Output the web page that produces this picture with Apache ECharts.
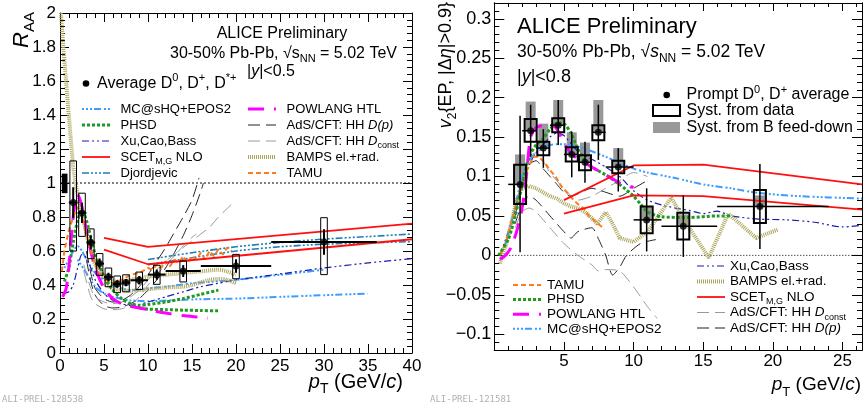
<!DOCTYPE html>
<html>
<head>
<meta charset="utf-8">
<script src="https://cdn.jsdelivr.net/npm/echarts@6/dist/echarts.min.js"></script>
<style>
html, body { margin: 0; padding: 0; background: #fff; }
#chart { width: 865px; height: 407px; }
</style>
</head>
<body>
<div id="chart"></div>
<script>
(function () {
    'use strict';
    var FONT = '"Liberation Sans", Arial, Helvetica, sans-serif';

    // ---------------- left panel : D-meson R_AA ----------------
    var raaPt     = [1.5, 2.5, 3.5, 4.5, 5.5, 6.5, 7.5, 9, 11, 14, 20, 30];
    var raaPtLo   = [1, 2, 3, 4, 5, 6, 7, 8, 10, 12, 16, 24];
    var raaPtHi   = [2, 3, 4, 5, 6, 7, 8, 10, 12, 16, 24, 36];
    var raaVal    = [0.885, 0.824, 0.65, 0.526, 0.447, 0.406, 0.414, 0.428, 0.461, 0.482, 0.512, 0.653];
    var raaStat   = [0.09, 0.06, 0.04, 0.03, 0.025, 0.022, 0.022, 0.025, 0.03, 0.035, 0.04, 0.075];
    var raaSystLo = [0.60, 0.686, 0.555, 0.457, 0.39, 0.355, 0.36, 0.373, 0.404, 0.418, 0.437, 0.461];
    var raaSystHi = [1.13, 0.94, 0.73, 0.585, 0.50, 0.453, 0.46, 0.476, 0.516, 0.541, 0.58, 0.796];
    var raaNormBox = [0.2, 0.85, 0.94, 1.055];   // xlo, xhi, ylo, yhi
    var raaUnity   = [[0, 1], [40, 1]];

    var lMcshqA  = [[0.5,0.5],[1,0.55],[1.5,0.6],[2,0.63],[2.5,0.6],[3,0.55],[4,0.47],[5,0.43],[6,0.4],[7,0.38],[8,0.37],[10,0.38],[12,0.39],[15,0.41],[20,0.43],[25,0.46],[30,0.49]];
    var lMcshqB  = [[2,0.55],[3,0.47],[4,0.39],[5,0.35],[6,0.33],[8,0.31],[10,0.305],[15,0.315],[20,0.32],[25,0.33],[30,0.34],[35,0.35]];
    var lPhsdA   = [[0.5,0.42],[1,0.5],[1.5,0.65],[2,0.78],[2.5,0.84],[3,0.78],[3.5,0.68],[4,0.58],[5,0.45],[6,0.37],[7,0.32],[8,0.29],[9,0.28],[10,0.285],[12,0.3],[14,0.32],[16,0.345],[18,0.37]];
    var lPhsdB   = [[8,0.28],[9,0.265],[10,0.258],[12,0.255],[14,0.252],[16,0.25],[18,0.248]];
    var lXcb     = [[0.3,0.35],[1,0.36],[1.5,0.4],[2,0.5],[2.5,0.58],[3,0.56],[3.5,0.5],[4,0.43],[5,0.35],[6,0.31],[7,0.29],[8,0.28],[9,0.285],[10,0.3],[12,0.33],[14,0.36],[16,0.39],[18,0.41],[20,0.43],[25,0.465],[30,0.5],[35,0.53],[40,0.555]];
    var lScetHi  = [[5,0.677],[10,0.624],[40,0.761]];
    var lScetLo  = [[5,0.608],[10,0.522],[40,0.669]];
    var lDjoA    = [[10,0.55],[15,0.59],[20,0.625],[25,0.65],[30,0.67],[35,0.685],[40,0.70]];
    var lDjoB    = [[10,0.52],[15,0.56],[20,0.6],[25,0.625],[30,0.64],[35,0.648],[40,0.655]];
    var lPowlang = [[0.3,0.33],[0.7,0.38],[1,0.5],[1.5,0.8],[2,0.93],[2.5,0.86],[3,0.72],[3.5,0.6],[4,0.5],[5,0.38],[6,0.32],[7,0.29],[8,0.275],[9,0.265],[10,0.255],[12,0.235],[14,0.22],[16,0.21],[16.8,0.205]];
    var lDpA     = [[3,0.6],[3.5,0.47],[4,0.38],[5,0.32],[6,0.3],[7,0.31],[8,0.34],[9,0.39],[10,0.46],[11,0.54],[12,0.62],[13,0.71],[14,0.8],[15,0.9],[15.8,1.03]];
    var lDpB     = [[3,0.55],[3.5,0.42],[4,0.34],[5,0.28],[6,0.265],[7,0.27],[8,0.29],[9,0.32],[10,0.37],[11,0.43],[12,0.5],[13,0.59],[14,0.69],[15,0.81],[16,0.95],[16.3,1.0]];
    var lDcA     = [[2.7,0.52],[3.5,0.38],[4,0.33],[5,0.3],[6,0.29],[7,0.3],[8,0.33],[9,0.37],[10,0.43],[11,0.49],[12,0.54],[13,0.58],[14,0.62],[15,0.66],[16,0.7],[17,0.74],[18,0.8],[19,0.85],[19.8,0.89]];
    var lDcB     = [[2.7,0.48],[3.5,0.33],[4,0.29],[5,0.26],[6,0.255],[7,0.26],[8,0.28],[9,0.33],[10,0.4],[11,0.46],[12,0.52],[13,0.57],[14,0.63],[15,0.68],[15.5,0.7]];
    var lBampsA  = [[0.1,2.0],[0.5,1.72],[1,1.4],[1.5,1.1],[2,0.93],[2.5,0.82],[3,0.7],[3.5,0.6],[4,0.52],[5,0.45],[6,0.42],[7,0.42],[8,0.43],[9,0.44],[10,0.45],[12,0.46],[14,0.47],[16,0.48],[18,0.49],[19,0.48],[20,0.46]];
    var lBampsB  = [[5,0.41],[6,0.38],[7,0.37],[8,0.365],[9,0.37],[10,0.375],[12,0.385],[14,0.39],[15,0.4],[16,0.415],[17,0.43],[18,0.435],[19,0.43],[20,0.41]];
    var lTamu    = [[0.2,0.48],[0.5,0.6],[1,0.72],[1.5,0.8],[2,0.86],[2.5,0.8],[3,0.7],[3.5,0.6],[4,0.52],[4.5,0.47],[5,0.44],[5.5,0.42],[6,0.41],[7,0.43],[8,0.46],[9,0.47],[10,0.5],[10.5,0.49],[11,0.52],[11.5,0.5],[12,0.54],[12.5,0.51],[13,0.55],[13.5,0.53],[14,0.57],[14.5,0.53],[15,0.57],[15.5,0.55],[16,0.59],[16.5,0.55],[17,0.6],[17.5,0.57],[18,0.61],[18.5,0.58],[19,0.62],[19.5,0.6]];

    // ---------------- right panel : D-meson v2 ----------------
    var v2Pt     = [1.85, 2.61, 3.52, 4.59, 5.56, 6.51, 7.47, 8.9, 10.94, 13.57, 19.07];
    var v2PtLo   = [1, 2, 3, 4, 5, 6, 7, 8, 10, 12, 16];
    var v2PtHi   = [2, 3, 4, 5, 6, 7, 8, 10, 12, 16, 24];
    var v2Val    = [0.090, 0.158, 0.136, 0.165, 0.128, 0.118, 0.156, 0.112, 0.045, 0.037, 0.062];
    var v2StatLo = [0.004, 0.125, 0.111, 0.140, 0.099, 0.092, 0.121, 0.081, 0.005, -0.002, 0.008];
    var v2StatHi = [0.177, 0.191, 0.160, 0.197, 0.157, 0.144, 0.191, 0.136, 0.085, 0.076, 0.116];
    var v2SystLo = [0.065, 0.144, 0.127, 0.156, 0.119, 0.108, 0.146, 0.104, 0.028, 0.020, 0.041];
    var v2SystHi = [0.115, 0.173, 0.144, 0.174, 0.137, 0.127, 0.165, 0.120, 0.062, 0.054, 0.083];
    var v2FdHi   = [0.128, 0.195, 0.167, 0.197, 0.156, 0.143, 0.197, 0.136, 0.062, 0.052, 0.076];
    var v2Zero   = [[0, 0], [26.4, 0]];

    var rTamu    = [[0.4,0.0],[0.8,0.015],[1.2,0.04],[1.6,0.065],[2,0.09],[2.4,0.11],[2.8,0.125],[3.2,0.125],[3.6,0.118],[4,0.108],[4.4,0.1],[4.8,0.088],[5.2,0.08],[5.6,0.072],[6,0.065],[6.4,0.06],[6.8,0.05],[7.2,0.044],[7.6,0.038],[7.9,0.033]];
    var rPhsd    = [[0.3,0],[1,0.02],[1.5,0.05],[2,0.09],[2.5,0.125],[3,0.14],[3.5,0.148],[4,0.16],[4.5,0.168],[5,0.167],[5.5,0.155],[6,0.135],[6.5,0.12],[7,0.112],[8,0.102],[9,0.09],[10,0.075],[10.5,0.065],[11,0.055],[12,0.049],[14,0.048],[16,0.05],[17,0.05]];
    var rPowlang = [[0.4,-0.005],[0.8,0.0],[1.2,0.01],[1.6,0.03],[2,0.06],[2.3,0.1],[2.6,0.15],[3,0.162],[3.5,0.165],[4,0.167],[4.5,0.16],[5,0.142],[5.5,0.13],[6,0.122],[6.5,0.117],[7,0.112],[7.5,0.107],[8,0.102],[8.5,0.097],[9,0.092],[9.5,0.089],[10,0.086]];
    var rMcshq   = [[0.4,0.0],[0.8,0.015],[1.2,0.04],[1.6,0.07],[2,0.1],[2.5,0.12],[3,0.13],[3.5,0.136],[4,0.14],[5,0.141],[6,0.138],[7,0.132],[8,0.125],[9,0.117],[10,0.11],[11,0.105],[13,0.098],[15,0.09],[17,0.085],[19,0.079],[22,0.075],[26.4,0.072]];
    var rXcb     = [[0.4,0.0],[1,0.03],[1.5,0.06],[2,0.09],[2.5,0.115],[3,0.13],[3.5,0.14],[4,0.15],[4.5,0.155],[5,0.152],[6,0.132],[7,0.122],[8,0.112],[9,0.1],[10,0.082],[11,0.07],[12,0.064],[13,0.06],[14,0.057],[15,0.053],[16,0.056],[17,0.05],[19,0.046],[21,0.045],[23,0.042],[25,0.036],[26.4,0.038]];
    var rBamps   = [[0.4,-0.01],[0.8,0.01],[1.2,0.04],[1.6,0.07],[2,0.085],[2.5,0.088],[3,0.085],[3.5,0.08],[4,0.075],[4.5,0.072],[5,0.066],[5.5,0.062],[6,0.06],[6.5,0.055],[7,0.047],[7.4,0.04],[8,0.055],[8.5,0.04],[9,0.022],[10,0.017],[11,0.03],[12.7,0.073],[14,0.035],[15.4,-0.003],[16.8,0.053],[18.8,0.022],[20.4,0.033]];
    var rScetHi  = [[5,0.07],[10,0.114],[15,0.115],[26.4,0.09]];
    var rScetLo  = [[5,0.053],[10,0.076],[15,0.075],[26.4,0.058]];
    var rDpA     = [[1.5,0.05],[2,0.09],[2.5,0.115],[3,0.12],[3.5,0.11],[4,0.1],[4.5,0.09],[5,0.08],[5.5,0.075],[6,0.078],[7,0.085],[8,0.08],[9,0.075],[10,0.085],[11,0.095]];
    var rDpB     = [[1.5,0.04],[2,0.065],[2.5,0.075],[3,0.07],[4,0.05],[5,0.03],[5.5,0.022],[6,0.03],[7,0.035],[7.5,0.02],[8,0.0],[8.5,-0.025],[9,-0.015],[9.5,0.0],[10.5,0.015],[11.6,0.02]];
    var rDcA     = [[1.5,0.06],[2,0.1],[2.5,0.125],[3,0.13],[3.5,0.12],[4,0.105],[5,0.085],[6,0.07],[7,0.075],[8,0.085],[9,0.095],[10,0.105],[11,0.1]];
    var rDcB     = [[1.5,0.035],[2,0.055],[2.5,0.06],[3,0.055],[4,0.035],[5,0.015],[6,0.0],[7,-0.012],[7.5,-0.02],[8,-0.018],[9,-0.02],[10,-0.04],[11,-0.065],[11.7,-0.08]];

    // tick values of the right panel
    var v2XMajor = [5, 10, 15, 20, 25];
    var v2YMajor = [-0.1, -0.05, 0, 0.05, 0.1, 0.15, 0.2, 0.25, 0.3];
    var v2XMinor = [], v2YMinor = [];
    for (var t = 1; t <= 26; t++) v2XMinor.push(t);
    for (var u = -12; u <= 32; u++) v2YMinor.push(u / 100);

    var st = {
        mcshq:   {color: '#3d9cff', width: 2,   dash: [2, 2, 2, 2, 2, 2, 7, 3]},
        phsd:    {color: '#1f9b1f', width: 3,   dash: [3, 2]},
        xcb:     {color: '#1c1caa', width: 1.2, dash: [7, 3, 2, 3, 2, 3]},
        scet:    {color: '#ff1010', width: 1.8, dash: 'solid'},
        djo:     {color: '#1f7fb0', width: 1.6, dash: [7, 2, 2, 2, 2, 2, 2, 2]},
        powlang: {color: '#ff00ff', width: 3,   dash: [16, 10]},
        adsDp:   {color: '#222222', width: 1,   dash: [12, 6]},
        adsDc:   {color: '#9a9a9a', width: 1,   dash: [12, 6]},
        bamps:   {color: '#aaa55a', width: 4,   dash: [1, 1]},
        tamu:    {color: '#ff7a1a', width: 2,   dash: [5, 3]}
    };

    function curve(data, s, panel, smooth) {
        var i = panel === 0 ? 0 : 2;
        return {
            type: 'line', xAxisIndex: i, yAxisIndex: i, data: data,
            showSymbol: false, symbol: 'none', smooth: smooth === undefined ? 0.25 : smooth,
            silent: true, z: 3,
            lineStyle: {color: s.color, width: s.width, type: s.dash, cap: 'butt'}
        };
    }

    function boxItem(halfW, fill, stroke, lw) {
        return function (params, api) {
            var x = api.value(0);
            var p1 = api.coord([x, api.value(2)]);
            var p2 = api.coord([x, api.value(1)]);
            return {type: 'rect', shape: {x: p1[0] - halfW, y: p1[1], width: 2 * halfW, height: p2[1] - p1[1]},
                    style: {fill: fill, stroke: stroke, lineWidth: lw}};
        };
    }

    function errItem(lw) {
        return function (params, api) {
            var x = api.value(0), y = api.value(1);
            var a = api.coord([api.value(2), y]), b = api.coord([api.value(3), y]);
            var c = api.coord([x, api.value(4)]), d = api.coord([x, api.value(5)]);
            return {type: 'group', children: [
                {type: 'line', shape: {x1: a[0], y1: a[1], x2: b[0], y2: b[1]}, style: {stroke: '#000', lineWidth: lw}},
                {type: 'line', shape: {x1: c[0], y1: c[1], x2: d[0], y2: d[1]}, style: {stroke: '#000', lineWidth: lw}}
            ]};
        };
    }

    var raaBoxes = raaPt.map(function (x, i) { return [x, raaSystLo[i], raaSystHi[i]]; });
    var raaErr = raaPt.map(function (x, i) { return [x, raaVal[i], raaPtLo[i], raaPtHi[i], raaVal[i] - raaStat[i], raaVal[i] + raaStat[i]]; });
    var raaPts = raaPt.map(function (x, i) { return [x, raaVal[i]]; });
    var v2Boxes = v2Pt.map(function (x, i) { return [x, v2SystLo[i], v2SystHi[i]]; });
    var v2Fd = v2Pt.map(function (x, i) { return [x, v2Val[i], v2FdHi[i]]; });
    var v2Err = v2Pt.map(function (x, i) { return [x, v2Val[i], v2PtLo[i], v2PtHi[i], v2StatLo[i], v2StatHi[i]]; });
    var v2Pts = v2Pt.map(function (x, i) { return [x, v2Val[i]]; });

    var series = [
        {type: 'custom', xAxisIndex: 0, yAxisIndex: 0, z: 2, silent: true,
         data: [[raaNormBox[0], raaNormBox[1], raaNormBox[2], raaNormBox[3]]],
         renderItem: function (params, api) {
             var p1 = api.coord([api.value(0), api.value(3)]), p2 = api.coord([api.value(1), api.value(2)]);
             return {type: 'rect', shape: {x: p1[0], y: p1[1], width: p2[0] - p1[0], height: p2[1] - p1[1]}, style: {fill: '#000'}};
         }},
        {type: 'line', xAxisIndex: 0, yAxisIndex: 0, data: raaUnity, showSymbol: false, silent: true, z: 2,
         lineStyle: {color: '#000', width: 1, type: [2, 2]}},
        curve(lMcshqA, st.mcshq, 0), curve(lMcshqB, st.mcshq, 0),
        curve(lDjoA, st.djo, 0), curve(lDjoB, st.djo, 0),
        curve(lXcb, st.xcb, 0),
        curve(lDpA, st.adsDp, 0), curve(lDpB, st.adsDp, 0),
        curve(lDcA, st.adsDc, 0), curve(lDcB, st.adsDc, 0),
        curve(lBampsA, st.bamps, 0), curve(lBampsB, st.bamps, 0),
        curve(lPhsdA, st.phsd, 0), curve(lPhsdB, st.phsd, 0),
        curve(lPowlang, st.powlang, 0),
        curve(lTamu, st.tamu, 0, false),
        curve(lScetHi, st.scet, 0, false), curve(lScetLo, st.scet, 0, false),
        {type: 'custom', xAxisIndex: 0, yAxisIndex: 0, z: 4, silent: true, data: raaBoxes, renderItem: boxItem(3.3, 'none', '#000', 1)},
        {type: 'custom', xAxisIndex: 0, yAxisIndex: 0, z: 5, silent: true, data: raaErr, renderItem: errItem(2)},
        {type: 'scatter', xAxisIndex: 0, yAxisIndex: 0, z: 6, silent: true, data: raaPts, symbol: 'circle', symbolSize: 7, itemStyle: {color: '#000'}},

        {type: 'custom', xAxisIndex: 2, yAxisIndex: 2, z: 2, silent: true, data: v2Fd, renderItem: boxItem(5, '#999', 'none', 0)},
        {type: 'line', xAxisIndex: 2, yAxisIndex: 2, data: v2Zero, showSymbol: false, silent: true, z: 2,
         lineStyle: {color: '#000', width: 1, type: [1, 2]}},
        curve(rDcA, st.adsDc, 1), curve(rDcB, st.adsDc, 1),
        curve(rDpA, st.adsDp, 1), curve(rDpB, st.adsDp, 1),
        curve(rXcb, st.xcb, 1),
        curve(rBamps, st.bamps, 1, false),
        curve(rMcshq, st.mcshq, 1),
        curve(rTamu, st.tamu, 1, false),
        curve(rPhsd, st.phsd, 1),
        curve(rPowlang, st.powlang, 1),
        curve(rScetHi, st.scet, 1, false), curve(rScetLo, st.scet, 1, false),
        {type: 'custom', xAxisIndex: 2, yAxisIndex: 2, z: 4, silent: true, data: v2Boxes, renderItem: boxItem(6, 'none', '#000', 2)},
        {type: 'custom', xAxisIndex: 2, yAxisIndex: 2, z: 5, silent: true, data: v2Err, renderItem: errItem(1.5)},
        {type: 'scatter', xAxisIndex: 2, yAxisIndex: 2, z: 6, silent: true, data: v2Pts, symbol: 'circle', symbolSize: 7, itemStyle: {color: '#000'}}
    ];

    // ---------------- axes ----------------
    var black = {color: '#000', width: 1};
    function lblStyle(size, margin, fmt, custom) {
        var o = {show: true, fontSize: size, color: '#000', fontFamily: FONT, margin: margin};
        if (fmt) o.formatter = fmt;
        if (custom) o.customValues = custom;
        return o;
    }
    function leftAxis(kind, pos, min, max, interval, labels) {
        return {
            gridIndex: 0, type: 'value', min: min, max: max, interval: interval, position: pos,
            axisLine: {show: true, onZero: false, lineStyle: black},
            axisTick: {show: true, inside: true, length: 9, lineStyle: black},
            minorTick: {show: true, splitNumber: 5, length: 5, lineStyle: black},
            axisLabel: labels ? lblStyle(17, kind === 'x' ? 5 : 4) : {show: false},
            splitLine: {show: false}, minorSplitLine: {show: false}
        };
    }
    function v2Fmt(v) {
        return String(Math.round(v * 100) / 100).replace('-', '\u2212');
    }
    function rightAxis(kind, pos, min, max, ticks, len, labels) {
        return {
            gridIndex: 1, type: 'value', min: min, max: max, position: pos,
            axisLine: {show: true, onZero: false, lineStyle: black},
            axisTick: {show: true, inside: true, length: len, lineStyle: black, customValues: ticks},
            axisLabel: labels ? lblStyle(kind === 'x' ? 17 : 18, 3, v2Fmt, ticks) : {show: false},
            splitLine: {show: false}
        };
    }

    var xAxes = [
        leftAxis('x', 'bottom', 0, 40, 5, true),
        leftAxis('x', 'top', 0, 40, 5, false),
        rightAxis('x', 'bottom', 0, 26.4, v2XMajor, 8, true),
        rightAxis('x', 'bottom', 0, 26.4, v2XMinor, 4, false),
        rightAxis('x', 'top', 0, 26.4, v2XMajor, 8, false),
        rightAxis('x', 'top', 0, 26.4, v2XMinor, 4, false)
    ];
    var yAxes = [
        leftAxis('y', 'left', 0, 2, 0.2, true),
        leftAxis('y', 'right', 0, 2, 0.2, false),
        rightAxis('y', 'left', -0.12, 0.32, v2YMajor, 10, true),
        rightAxis('y', 'left', -0.12, 0.32, v2YMinor, 5, false),
        rightAxis('y', 'right', -0.12, 0.32, v2YMajor, 10, false),
        rightAxis('y', 'right', -0.12, 0.32, v2YMinor, 5, false)
    ];

    // ---------------- texts and legends ----------------
    function tok(size, extra) {
        var s = {fontSize: size, fontFamily: FONT, fill: '#000'};
        for (var k in extra) s[k] = extra[k];
        return s;
    }
    function richFor(size) {
        return {
            sub: tok(Math.round(size * 0.68), {verticalAlign: 'bottom'}),
            sup: tok(Math.round(size * 0.68), {verticalAlign: 'top'}),
            i: tok(size, {fontStyle: 'italic'}),
            n: tok(size, {})
        };
    }
    function txt(x, y, text, size, o) {
        o = o || {};
        return {type: 'text', x: x, y: y, rotation: o.rotation || 0, z: 30, silent: true,
                style: {text: text, fontSize: size, fontFamily: o.family || FONT, fill: o.fill || '#000',
                        align: o.align || 'left', verticalAlign: o.va || 'middle',
                        lineHeight: Math.round(size * 1.4), rich: richFor(size)}};
    }
    function sample(x1, x2, y, s) {
        return {type: 'line', z: 30, silent: true, shape: {x1: x1, y1: y, x2: x2, y2: y},
                style: {stroke: s.color, lineWidth: s.width, lineDash: s.dash === 'solid' ? null : s.dash}};
    }

    var leftLegend = [
        [0, 'mcshq', 'MC@sHQ+EPOS2'], [0, 'phsd', 'PHSD'], [0, 'xcb', 'Xu,Cao,Bass'],
        [0, 'scet', 'SCET{sub|M,G} NLO'], [0, 'djo', 'Djordjevic'],
        [1, 'powlang', 'POWLANG HTL'], [1, 'adsDp', 'AdS/CFT: HH {i|D(p)}'],
        [1, 'adsDc', 'AdS/CFT: HH {i|D}{sub|const}'], [1, 'bamps', 'BAMPS el.+rad.'], [1, 'tamu', 'TAMU']
    ];
    var rightLegendA = [['tamu', 'TAMU'], ['phsd', 'PHSD'], ['powlang', 'POWLANG HTL'], ['mcshq', 'MC@sHQ+EPOS2']];
    var rightLegendB = [['xcb', 'Xu,Cao,Bass'], ['bamps', 'BAMPS el.+rad.'], ['scet', 'SCET{sub|M,G} NLO'],
                        ['adsDc', 'AdS/CFT: HH {i|D}{sub|const}'], ['adsDp', 'AdS/CFT: HH {i|D(p)}']];

    var g = [];
    // left panel labels
    g.push(txt(22, 12, '{i|R}{sub|AA}', 22, {rotation: Math.PI / 2, align: 'right'}));
    g.push(txt(282, 33.5, 'ALICE Preliminary', 16, {align: 'center'}));
    g.push(txt(397, 53.5, '30-50% Pb-Pb, \u221As{sub|NN} = 5.02 TeV', 16, {align: 'right'}));
    g.push(txt(247, 72, '|{i|y}|<0.5', 16));
    g.push({type: 'circle', z: 30, silent: true, shape: {cx: 86, cy: 83.5, r: 3.3}, style: {fill: '#000'}});
    g.push(txt(97, 83.5, 'Average D{sup|0}, D{sup|+}, D{sup|*+}', 16));
    var colCount = [0, 0];
    leftLegend.forEach(function (r) {
        var col = r[0], y = 109 + 16 * colCount[col];
        colCount[col]++;
        var x1 = col === 0 ? 82 : 248;
        g.push(sample(x1, x1 + 28, y, st[r[1]]));
        g.push(txt(x1 + 38.5, y, r[2], 13));
    });
    g.push(txt(403, 382, '{i|p}{sub|T} (GeV/{i|c})', 20, {align: 'right'}));
    g.push(txt(2, 400, 'ALI-PREL-128538', 9, {family: '"DejaVu Sans Mono", monospace', fill: '#b0b0b0'}));

    // right panel labels
    g.push(txt(446, 2, '{i|v}{sub|2}{EP, |\u0394{i|\u03B7}|>0.9}', 18, {rotation: Math.PI / 2, align: 'right'}));
    g.push(txt(517, 26.5, 'ALICE Preliminary', 22));
    g.push(txt(517, 52, '30-50% Pb-Pb, \u221A{i|s}{sub|NN} = 5.02 TeV', 17.5));
    g.push(txt(517, 77, '|{i|y}|<0.8', 18));
    g.push({type: 'circle', z: 30, silent: true, shape: {cx: 666.7, cy: 95, r: 3.3}, style: {fill: '#000'}});
    g.push(txt(686.5, 95, 'Prompt D{sup|0}, D{sup|+} average', 16));
    g.push({type: 'rect', z: 30, silent: true, shape: {x: 653, y: 105, width: 27, height: 11}, style: {fill: 'none', stroke: '#000', lineWidth: 2}});
    g.push(txt(686.5, 111, 'Syst. from data', 16));
    g.push({type: 'rect', z: 30, silent: true, shape: {x: 653, y: 122, width: 27, height: 11}, style: {fill: '#999'}});
    g.push(txt(686.5, 127.5, 'Syst. from B feed-down', 16));
    rightLegendA.forEach(function (r, k) {
        var y = 285 + 14.6 * k;
        g.push(sample(513, 541, y, st[r[0]]));
        g.push(txt(547, y, r[1], 13.5));
    });
    rightLegendB.forEach(function (r, k) {
        var y = 266 + 15.5 * k;
        g.push(sample(697, 725, y, st[r[0]]));
        g.push(txt(730, y, r[1], 13.5));
    });
    g.push(txt(861, 385, '{i|p}{sub|T} (GeV/{i|c})', 19, {align: 'right'}));
    g.push(txt(430, 400, 'ALI-PREL-121581', 9, {family: '"DejaVu Sans Mono", monospace', fill: '#b0b0b0'}));

    var chart = echarts.init(document.getElementById('chart'), null, {renderer: 'canvas'});
    chart.setOption({
        animation: false,
        backgroundColor: '#fff',
        grid: [
            {left: 60, top: 13, width: 352, height: 340},
            {left: 494.3, top: 3, width: 367.7, height: 347}
        ],
        xAxis: xAxes,
        yAxis: yAxes,
        series: series,
        graphic: g
    });
})();
</script>
</body>
</html>
